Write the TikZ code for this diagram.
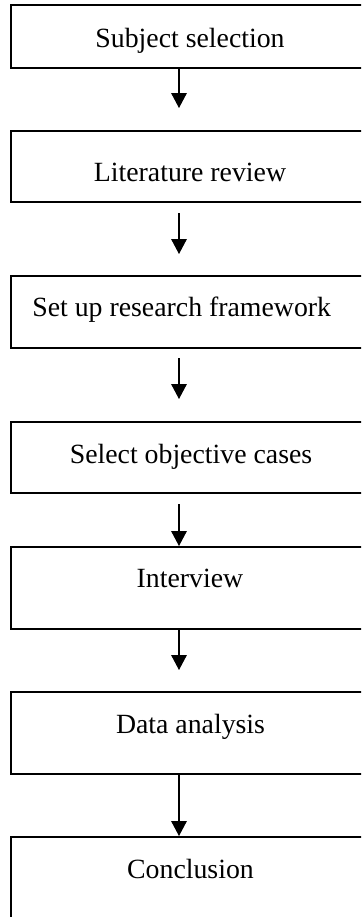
\documentclass[tikz,border=0pt]{standalone}
\usepackage{fontspec}
\setmainfont{Liberation Serif}
\usetikzlibrary{arrows.meta}
\begin{document}
\begin{tikzpicture}[x=0.5pt,y=-0.5pt,
  box/.style={draw=black, line width=1pt, rectangle, minimum width=179.5pt, inner sep=0pt},
  txt/.style={font=\fontsize{13.9}{16}\selectfont, inner sep=0pt, anchor=base},
  arr/.style={line width=0.65pt, -{Triangle[length=7.5pt,width=7.8pt]}}]
\useasboundingbox (0,0) rectangle (361,917);
\clip (0,0) rectangle (361,917);
\fill[white] (0,0) rectangle (361,917);
\coordinate (ax) at (179,0);
% boxes
\node[box, minimum height=31.5pt] (b1) at (190.5,36.5) {};
\node[box, minimum height=35.5pt] (b2) at (190.5,166.5) {};
\node[box, minimum height=36pt]   (b3) at (190.5,312) {};
\node[box, minimum height=35.5pt] (b4) at (190.5,457.5) {};
\node[box, minimum height=41pt]   (b5) at (190.5,588) {};
\node[box, minimum height=41pt]   (b6) at (190.5,733) {};
\node[box, minimum height=61.5pt] (b7) at (190.5,898.5) {};
% texts
\node[txt] (t1) at (190,47.7) {Subject selection};
\node[txt] (t2) at (190,181.7) {Literature review};
\node[txt] (t3) at (181.7,316.7) {Set up research framework};
\node[txt] (t4) at (191,463.3) {Select objective cases};
\node[txt] (t5) at (190,587) {Interview};
\node[txt] (t6) at (190.5,733) {Data analysis};
\node[txt] (t7) at (190.5,878) {Conclusion};
% arrow end points
\coordinate (e1) at (179,108);
\coordinate (s2) at (179,213);
\coordinate (e2) at (179,254);
\coordinate (s3) at (179,358);
\coordinate (e3) at (179,399);
\coordinate (s4) at (179,504);
\coordinate (e5) at (179,670);
% arrows
\draw[arr] (b1.south -| ax) -- (e1);
\draw[arr] (s2) -- (e2);
\draw[arr] (s3) -- (e3);
\draw[arr] (s4) -- (b5.north -| ax);
\draw[arr] (b5.south -| ax) -- (e5);
\draw[arr] (b6.south -| ax) -- (b7.north -| ax);
\end{tikzpicture}
\end{document}
